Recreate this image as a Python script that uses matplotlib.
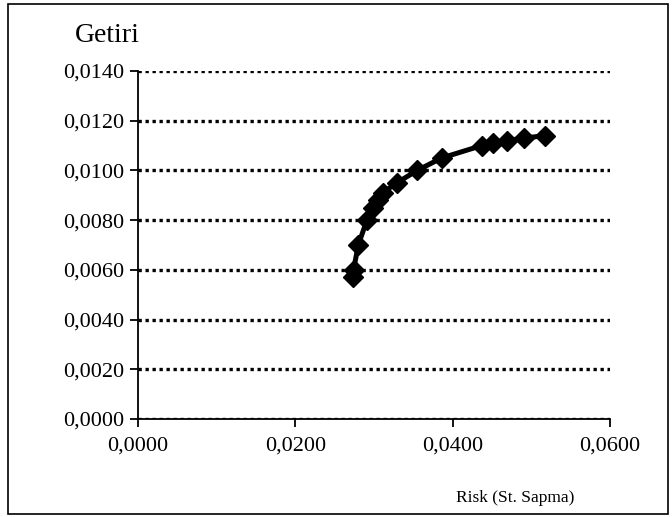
import matplotlib.pyplot as plt
from matplotlib.patches import Rectangle
from matplotlib.ticker import FuncFormatter

plt.rcParams['font.family'] = ['Liberation Serif', 'DejaVu Serif']

# risk (std dev) and return values
risk = [0.0273, 0.0274, 0.0280, 0.0291, 0.0299, 0.0305, 0.0311,
        0.0329, 0.0355, 0.0386, 0.0437, 0.0451, 0.0469, 0.0491, 0.0517]
getiri = [0.0057, 0.0060, 0.0070, 0.0080, 0.0085, 0.0088, 0.0091,
          0.0095, 0.0100, 0.0105, 0.0110, 0.0111, 0.0112, 0.0113, 0.0114]

fig = plt.figure(figsize=(6.72, 5.17), dpi=100)
ax = fig.add_axes([0.2054, 0.1896, 0.7023, 0.6731])

# outer frame around the chart
fig.patches.append(Rectangle((0.012, 0.006), 0.982, 0.986, transform=fig.transFigure,
                             fill=False, edgecolor='black', linewidth=1.2))

ax.plot(risk, getiri, color='black', linewidth=3.6, marker='D',
        markersize=10.5, zorder=3)

ax.set_xlim(0, 0.06)
ax.set_ylim(0, 0.014)
ax.set_xticks([0, 0.02, 0.04, 0.06])
ax.set_yticks([i * 0.002 for i in range(8)])

comma = FuncFormatter(lambda v, p: f'{v:.4f}'.replace('.', ','))
ax.xaxis.set_major_formatter(comma)
ax.yaxis.set_major_formatter(comma)

ax.grid(axis='y', color='black', linestyle=(0, (1, 1.1)), linewidth=2.4)
ax.set_axisbelow(True)
ax.spines['top'].set_visible(False)
ax.spines['right'].set_visible(False)
ax.spines['left'].set_linewidth(1.3)
ax.spines['bottom'].set_linewidth(1.3)
ax.tick_params(direction='out', length=6, width=1.3, labelsize=16, pad=4)
ax.tick_params(axis='x', pad=7)

fig.text(0.112, 0.932, 'Getiri', fontsize=20, va='center', ha='left')
fig.text(0.767, 0.037, 'Risk (St. Sapma)', fontsize=12.5, va='center', ha='center')

plt.savefig('out.png', dpi=100)
